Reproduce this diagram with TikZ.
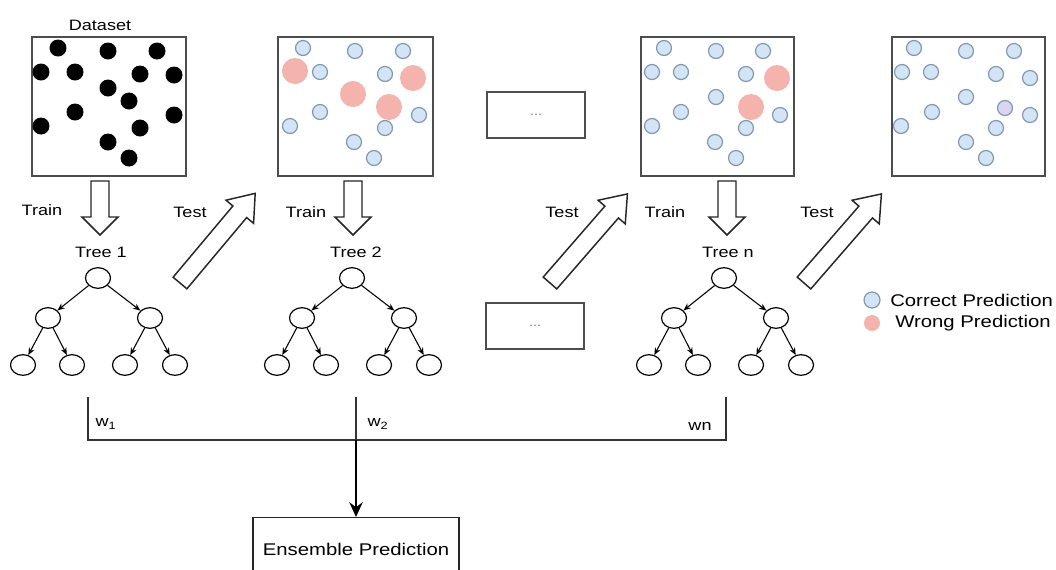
\documentclass[tikz,border=0pt]{standalone}
\usepackage{fontspec}
\setmainfont{Liberation Sans}[FakeStretch=1.2]
\usetikzlibrary{shapes.geometric,arrows.meta}
\definecolor{boxgray}{HTML}{4D4D4D}
\definecolor{cblue}{HTML}{D3E4F4}
\definecolor{cbluedraw}{HTML}{8198B0}
\definecolor{cpink}{HTML}{F4B3AC}
\definecolor{clav}{HTML}{DCD4F0}
\tikzset{
  panel/.style={draw=boxgray, line width=1.5pt, fill=white},
  blk/.style={fill=black},
  bdot/.style={fill=cblue, draw=cbluedraw, line width=0.9pt},
  pdot/.style={fill=cpink},
  lbl/.style={font=\fontsize{11.3}{13}\selectfont, inner sep=0pt},
  big/.style={font=\fontsize{12.7}{15}\selectfont},
  barrow/.style={draw=black!85, line width=1.1pt, fill=white, line join=miter},
  tnode/.style={ellipse, draw, line width=0.9pt, minimum width=18.75pt, minimum height=15.5pt, inner sep=0pt},
  tedge/.style={line width=0.8pt, -{Stealth[length=5.5pt,width=4.5pt]}},
  sumline/.style={line width=1pt, draw=black!80},
  dotsbox/.style={draw=boxgray, line width=1.3pt, minimum width=73.5pt, minimum height=34pt, font=\fontsize{9}{10}\selectfont, text=black!55}
}
\newcommand\blockarrow[6]{% tail x, tail y, angle, length, head length, name
  \begin{scope}[shift={(#1,#2)}, rotate=#3]
    \draw[barrow] (0,9) -- ({#4-#5},9) -- ({#4-#5},18) -- (#4,0) -- ({#4-#5},-18) -- ({#4-#5},-9) -- (0,-9) -- cycle;
    \coordinate (#6) at (#4,0);
  \end{scope}}
\newcommand\drawtree[2]{% x offset, prefix
  \node[tnode] (#2r) at (98+#1,278) {};
  \node[tnode] (#2a) at (48+#1,318) {};
  \node[tnode] (#2b) at (150+#1,318) {};
  \node[tnode] (#2a1) at (23+#1,365) {};
  \node[tnode] (#2a2) at (72+#1,365) {};
  \node[tnode] (#2b1) at (125+#1,365) {};
  \node[tnode] (#2b2) at (175+#1,365) {};
  \draw[tedge] (#2r) -- (#2a);
  \draw[tedge] (#2r) -- (#2b);
  \draw[tedge] (#2a) -- (#2a1);
  \draw[tedge] (#2a) -- (#2a2);
  \draw[tedge] (#2b) -- (#2b1);
  \draw[tedge] (#2b) -- (#2b2);}
\begin{document}
\begin{tikzpicture}[x=0.75pt,y=-0.75pt]
\useasboundingbox (0,0) rectangle (1056,569);
\clip (0,0) rectangle (1056,569);
\fill[white] (0,0) rectangle (1056,569);

% ---- panels
\node[lbl] (dslabel) at (100,25) {Dataset};
\draw[panel] (32,37) rectangle (186,176);
\foreach \p in {(58,48),(108,51),(157,51),(41,72),(75,72),(140,74),(174,75),(108,88),(129,101),(75,112),(174,115),(41,126),(140,128),(108,142),(129,158)}
  \fill[blk] \p circle (8.5);

\draw[panel] (278,37) rectangle (433,176);
\foreach \p in {(295,71),(413,78),(353,94),(389,107)}
  \fill[pdot] \p circle (13);
\foreach \p in {(303,48),(355,51),(403,51),(320,72),(385,74),(320,112),(419,115),(290,126),(385,128),(354,142),(374,158)}
  \draw[bdot] \p circle (7.5);

\draw[panel] (641,37) rectangle (794,176);
\foreach \p in {(777,78),(751,107)}
  \fill[pdot] \p circle (13);
\foreach \p in {(664,48),(716,51),(763,51),(652,72),(681,72),(746,74),(716,97),(681,112),(780,115),(652,126),(746,128),(715,142),(736,158)}
  \draw[bdot] \p circle (7.5);

\draw[panel] (892,37) rectangle (1045,176);
\foreach \p in {(914,48),(966,51),(1014,51),(902,72),(931,72),(996,74),(1030,78),(966,97),(932,112),(1030,115),(901,126),(996,128),(966,142),(986,158)}
  \draw[bdot] \p circle (7.5);
\draw[bdot, fill=clav] (1005,108) circle (7.5);

% ---- dots boxes
\node[dotsbox] (dots1) at (536,115) {...};
\node[dotsbox] (dots2) at (535,326) {...};

% ---- block arrows
\blockarrow{100}{181}{-90}{54}{18}{tr1}
\blockarrow{353}{181}{-90}{54}{18}{tr2}
\blockarrow{727}{181}{-90}{54}{18}{tr3}
\blockarrow{180}{283}{50}{117}{24}{te1}
\blockarrow{550}{283}{49}{118}{24}{te2}
\blockarrow{804}{283}{49}{118}{24}{te3}

% ---- labels
\node[lbl] (train1) at (42,210) {Train};
\node[lbl] (train2) at (306,212) {Train};
\node[lbl] (train3) at (665,212) {Train};
\node[lbl] (test1) at (190,212) {Test};
\node[lbl] (test2) at (562,212) {Test};
\node[lbl] (test3) at (817,212) {Test};
\node[lbl] (tree1) at (101,252) {Tree 1};
\node[lbl] (tree2) at (356,252) {Tree 2};
\node[lbl] (tree3) at (728,252) {Tree n};

% ---- trees
\drawtree{0}{t1}
\drawtree{254}{t2}
\drawtree{626}{t3}

% ---- legend
\draw[bdot] (872,300) circle (8);
\fill[cpink] (872,323) circle (8);
\node[big, anchor=west, inner sep=0pt] (lg1) at (890,300) {Correct Prediction};
\node[big, anchor=west, inner sep=0pt] (lg2) at (895,323) {Wrong Prediction};

% ---- weighted sum
\coordinate (v1) at (88,397);
\coordinate (v2) at (356,397);
\coordinate (v3) at (726,397);
\coordinate (h1) at (88,440);
\coordinate (h2) at (356,440);
\coordinate (h3) at (726,440);
\draw[sumline] (v1) -- (h1) -- (h3) -- (v3);
\draw[sumline] (v2) -- (h2);
\node[lbl] (w1) at (106,424) {w\textsubscript{1}};
\node[lbl] (w2) at (378,424) {w\textsubscript{2}};
\node[lbl] (wn) at (700,426) {wn};

\node[draw=black!85, line width=1pt, anchor=north, minimum width=154.5pt, minimum height=48pt, big] (ens) at (356,517) {Ensemble Prediction};
\draw[line width=1.6pt, -{Stealth[length=11pt,width=10pt]}] (h2) -- (ens.north);
\end{tikzpicture}
\end{document}
